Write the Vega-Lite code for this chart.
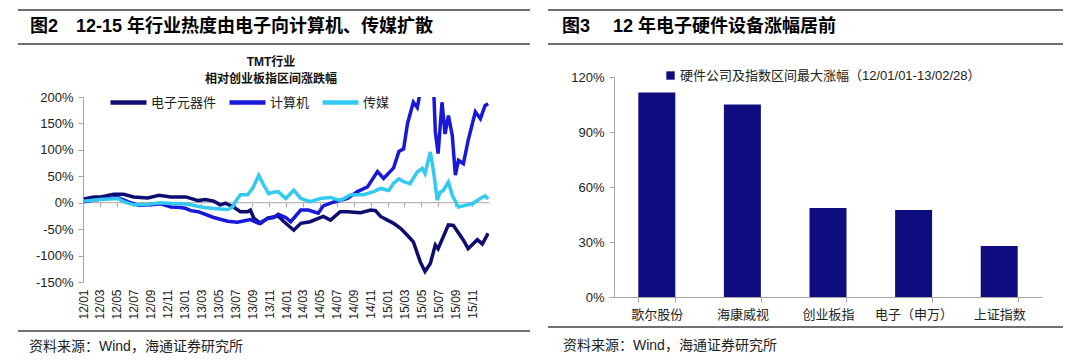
{
  "$schema": "https://vega.github.io/schema/vega-lite/v6.json",
  "padding": {"left": 17, "top": 9, "right": 0, "bottom": 0},
  "config": {
    "view": {"stroke": null},
    "axis": {"labelFont": "Liberation Sans", "labelColor": "#222", "grid": false, "title": null},
    "legend": {"labelFont": "Liberation Sans, Noto Sans CJK SC", "labelColor": "#222"}
  },
  "resolve": {"scale": {"color": "independent"}, "legend": {"color": "independent"}},
  "datasets": {
    "lines": [
      {"d": "2012-01-04", "s": "电子元器件", "v": 7},
      {"d": "2012-02-10", "s": "电子元器件", "v": 11},
      {"d": "2012-03-05", "s": "电子元器件", "v": 11},
      {"d": "2012-04-20", "s": "电子元器件", "v": 16},
      {"d": "2012-05-26", "s": "电子元器件", "v": 16},
      {"d": "2012-07-01", "s": "电子元器件", "v": 11},
      {"d": "2012-08-21", "s": "电子元器件", "v": 9},
      {"d": "2012-09-30", "s": "电子元器件", "v": 14},
      {"d": "2012-11-12", "s": "电子元器件", "v": 11},
      {"d": "2013-01-05", "s": "电子元器件", "v": 11},
      {"d": "2013-02-18", "s": "电子元器件", "v": 4},
      {"d": "2013-03-16", "s": "电子元器件", "v": 6},
      {"d": "2013-04-15", "s": "电子元器件", "v": 3},
      {"d": "2013-05-09", "s": "电子元器件", "v": -4},
      {"d": "2013-05-27", "s": "电子元器件", "v": -1},
      {"d": "2013-06-25", "s": "电子元器件", "v": -8},
      {"d": "2013-07-20", "s": "电子元器件", "v": -17},
      {"d": "2013-08-15", "s": "电子元器件", "v": -17},
      {"d": "2013-08-25", "s": "电子元器件", "v": -14},
      {"d": "2013-09-06", "s": "电子元器件", "v": -29},
      {"d": "2013-10-01", "s": "电子元器件", "v": -39},
      {"d": "2013-10-26", "s": "电子元器件", "v": -29},
      {"d": "2013-12-03", "s": "电子元器件", "v": -25},
      {"d": "2013-12-22", "s": "电子元器件", "v": -35},
      {"d": "2014-01-28", "s": "电子元器件", "v": -52},
      {"d": "2014-02-22", "s": "电子元器件", "v": -39},
      {"d": "2014-03-28", "s": "电子元器件", "v": -36},
      {"d": "2014-05-14", "s": "电子元器件", "v": -26},
      {"d": "2014-06-09", "s": "电子元器件", "v": -33},
      {"d": "2014-07-14", "s": "电子元器件", "v": -17},
      {"d": "2014-08-09", "s": "电子元器件", "v": -17},
      {"d": "2014-09-25", "s": "电子元器件", "v": -19},
      {"d": "2014-11-01", "s": "电子元器件", "v": -14},
      {"d": "2014-11-18", "s": "电子元器件", "v": -15},
      {"d": "2014-12-06", "s": "电子元器件", "v": -26},
      {"d": "2015-01-22", "s": "电子元器件", "v": -39},
      {"d": "2015-02-17", "s": "电子元器件", "v": -49},
      {"d": "2015-03-13", "s": "电子元器件", "v": -62},
      {"d": "2015-04-03", "s": "电子元器件", "v": -74},
      {"d": "2015-04-28", "s": "电子元器件", "v": -112},
      {"d": "2015-05-15", "s": "电子元器件", "v": -130},
      {"d": "2015-06-03", "s": "电子元器件", "v": -115},
      {"d": "2015-06-21", "s": "电子元器件", "v": -80},
      {"d": "2015-07-01", "s": "电子元器件", "v": -87},
      {"d": "2015-08-07", "s": "电子元器件", "v": -42},
      {"d": "2015-08-25", "s": "电子元器件", "v": -43},
      {"d": "2015-09-30", "s": "电子元器件", "v": -71},
      {"d": "2015-10-17", "s": "电子元器件", "v": -87},
      {"d": "2015-11-19", "s": "电子元器件", "v": -70},
      {"d": "2015-12-07", "s": "电子元器件", "v": -78},
      {"d": "2015-12-28", "s": "电子元器件", "v": -58},
      {"d": "2012-01-04", "s": "计算机", "v": 2},
      {"d": "2012-03-05", "s": "计算机", "v": 7},
      {"d": "2012-05-05", "s": "计算机", "v": 10},
      {"d": "2012-06-10", "s": "计算机", "v": 2},
      {"d": "2012-07-19", "s": "计算机", "v": -5},
      {"d": "2012-09-01", "s": "计算机", "v": -4},
      {"d": "2012-10-07", "s": "计算机", "v": -2},
      {"d": "2012-11-12", "s": "计算机", "v": -8},
      {"d": "2012-12-18", "s": "计算机", "v": -9},
      {"d": "2013-01-05", "s": "计算机", "v": -11},
      {"d": "2013-01-23", "s": "计算机", "v": -15},
      {"d": "2013-02-18", "s": "计算机", "v": -17},
      {"d": "2013-04-15", "s": "计算机", "v": -28},
      {"d": "2013-06-04", "s": "计算机", "v": -35},
      {"d": "2013-07-09", "s": "计算机", "v": -37},
      {"d": "2013-08-25", "s": "计算机", "v": -32},
      {"d": "2013-09-24", "s": "计算机", "v": -39},
      {"d": "2013-10-26", "s": "计算机", "v": -30},
      {"d": "2013-11-17", "s": "计算机", "v": -28},
      {"d": "2013-12-03", "s": "计算机", "v": -22},
      {"d": "2013-12-30", "s": "计算机", "v": -28},
      {"d": "2014-01-17", "s": "计算机", "v": -36},
      {"d": "2014-02-22", "s": "计算机", "v": -14},
      {"d": "2014-03-21", "s": "计算机", "v": -14},
      {"d": "2014-04-26", "s": "计算机", "v": -20},
      {"d": "2014-05-14", "s": "计算机", "v": -6},
      {"d": "2014-06-19", "s": "计算机", "v": 1},
      {"d": "2014-08-09", "s": "计算机", "v": 8},
      {"d": "2014-09-14", "s": "计算机", "v": 21},
      {"d": "2014-10-20", "s": "计算机", "v": 30},
      {"d": "2014-11-25", "s": "计算机", "v": 59},
      {"d": "2014-12-17", "s": "计算机", "v": 46},
      {"d": "2015-01-22", "s": "计算机", "v": 66},
      {"d": "2015-02-10", "s": "计算机", "v": 97},
      {"d": "2015-02-27", "s": "计算机", "v": 102},
      {"d": "2015-03-13", "s": "计算机", "v": 150},
      {"d": "2015-04-03", "s": "计算机", "v": 190},
      {"d": "2015-04-17", "s": "计算机", "v": 180},
      {"d": "2015-05-05", "s": "计算机", "v": 230},
      {"d": "2015-05-22", "s": "计算机", "v": 290},
      {"d": "2015-06-14", "s": "计算机", "v": 230},
      {"d": "2015-06-21", "s": "计算机", "v": 134},
      {"d": "2015-07-01", "s": "计算机", "v": 93},
      {"d": "2015-07-15", "s": "计算机", "v": 190},
      {"d": "2015-07-26", "s": "计算机", "v": 130},
      {"d": "2015-08-07", "s": "计算机", "v": 165},
      {"d": "2015-08-21", "s": "计算机", "v": 127},
      {"d": "2015-09-01", "s": "计算机", "v": 52},
      {"d": "2015-09-12", "s": "计算机", "v": 80},
      {"d": "2015-09-30", "s": "计算机", "v": 74},
      {"d": "2015-10-17", "s": "计算机", "v": 118},
      {"d": "2015-11-12", "s": "计算机", "v": 172},
      {"d": "2015-11-30", "s": "计算机", "v": 159},
      {"d": "2015-12-17", "s": "计算机", "v": 184},
      {"d": "2015-12-28", "s": "计算机", "v": 187},
      {"d": "2012-01-04", "s": "传媒", "v": 3},
      {"d": "2012-03-05", "s": "传媒", "v": 6},
      {"d": "2012-05-05", "s": "传媒", "v": 8},
      {"d": "2012-05-26", "s": "传媒", "v": 2},
      {"d": "2012-07-01", "s": "传媒", "v": -4},
      {"d": "2012-08-21", "s": "传媒", "v": -3},
      {"d": "2012-10-07", "s": "传媒", "v": 0},
      {"d": "2012-11-23", "s": "传媒", "v": -2},
      {"d": "2013-01-05", "s": "传媒", "v": -2},
      {"d": "2013-02-28", "s": "传媒", "v": -8},
      {"d": "2013-04-15", "s": "传媒", "v": -11},
      {"d": "2013-06-04", "s": "传媒", "v": -13},
      {"d": "2013-06-22", "s": "传媒", "v": -8},
      {"d": "2013-07-06", "s": "传媒", "v": 5},
      {"d": "2013-07-20", "s": "传媒", "v": 15},
      {"d": "2013-08-15", "s": "传媒", "v": 15},
      {"d": "2013-09-02", "s": "传媒", "v": 27},
      {"d": "2013-09-24", "s": "传媒", "v": 52},
      {"d": "2013-10-12", "s": "传媒", "v": 33},
      {"d": "2013-10-30", "s": "传媒", "v": 17},
      {"d": "2013-11-17", "s": "传媒", "v": 20},
      {"d": "2013-12-03", "s": "传媒", "v": 21},
      {"d": "2013-12-30", "s": "传媒", "v": 8},
      {"d": "2014-01-28", "s": "传媒", "v": 24},
      {"d": "2014-02-22", "s": "传媒", "v": 8},
      {"d": "2014-03-28", "s": "传媒", "v": 2},
      {"d": "2014-05-03", "s": "传媒", "v": 8},
      {"d": "2014-06-09", "s": "传媒", "v": 10},
      {"d": "2014-07-14", "s": "传媒", "v": 4},
      {"d": "2014-08-20", "s": "传媒", "v": 15},
      {"d": "2014-10-06", "s": "传媒", "v": 15},
      {"d": "2014-11-11", "s": "传媒", "v": 21},
      {"d": "2014-12-06", "s": "传媒", "v": 27},
      {"d": "2015-01-05", "s": "传媒", "v": 23},
      {"d": "2015-01-22", "s": "传媒", "v": 37},
      {"d": "2015-02-10", "s": "传媒", "v": 45},
      {"d": "2015-02-27", "s": "传媒", "v": 40},
      {"d": "2015-03-22", "s": "传媒", "v": 36},
      {"d": "2015-04-17", "s": "传媒", "v": 58},
      {"d": "2015-05-05", "s": "传媒", "v": 65},
      {"d": "2015-05-15", "s": "传媒", "v": 55},
      {"d": "2015-06-03", "s": "传媒", "v": 96},
      {"d": "2015-06-14", "s": "传媒", "v": 61},
      {"d": "2015-06-28", "s": "传媒", "v": 5},
      {"d": "2015-07-08", "s": "传媒", "v": 20},
      {"d": "2015-07-19", "s": "传媒", "v": 23},
      {"d": "2015-08-07", "s": "传媒", "v": 39},
      {"d": "2015-08-21", "s": "传媒", "v": 14},
      {"d": "2015-09-12", "s": "传媒", "v": -8},
      {"d": "2015-10-07", "s": "传媒", "v": -5},
      {"d": "2015-11-01", "s": "传媒", "v": -2},
      {"d": "2015-11-30", "s": "传媒", "v": 8},
      {"d": "2015-12-17", "s": "传媒", "v": 13},
      {"d": "2015-12-28", "s": "传媒", "v": 7}
    ],
    "bars": [
      {"name": "歌尔股份", "v": 111.5},
      {"name": "海康威视", "v": 105},
      {"name": "创业板指", "v": 48.5},
      {"name": "电子（申万）", "v": 47.5},
      {"name": "上证指数", "v": 27.8}
    ]
  },
  "hconcat": [
    {
      "spacing": 0,
      "resolve": {"scale": {"color": "independent"}, "legend": {"color": "independent"}},
      "vconcat": [
        {
          "width": 406, "height": 46,
          "data": {"values": [{"t": "图2\u300012-15 年行业热度由电子向计算机、传媒扩散"}]},
          "layer": [
            {"mark": {"type": "rule", "color": "#404040", "strokeWidth": 1.5},
             "encoding": {
               "x": {"datum": 0, "type": "quantitative", "scale": {"domain": [0, 1], "range": [-65, 447]}, "axis": null},
               "x2": {"datum": 1},
               "y": {"datum": 0, "type": "quantitative", "scale": {"domain": [0, 1], "range": [0, 34]}, "axis": null}}},
            {"mark": {"type": "rule", "color": "#404040", "strokeWidth": 1.5},
             "encoding": {
               "x": {"datum": 0, "type": "quantitative"},
               "x2": {"datum": 1},
               "y": {"datum": 1, "type": "quantitative"}}},
            {"mark": {"type": "text", "align": "left", "baseline": "middle", "dx": 12, "fontSize": 18, "fontWeight": "bold", "font": "Liberation Sans, Noto Sans CJK SC", "color": "#000"},
             "encoding": {
               "x": {"datum": 0, "type": "quantitative"},
               "y": {"datum": 0.5, "type": "quantitative"},
               "text": {"field": "t"}}}
          ]
        },
        {
          "width": 406, "height": 185,
          "title": {"text": ["TMT行业", "相对创业板指区间涨跌幅"], "font": "Liberation Sans, Noto Sans CJK SC", "fontSize": 12, "fontWeight": "bold", "lineHeight": 17, "anchor": "middle", "dx": -15, "offset": -4, "color": "#111"},
          "layer": [
            {
              "data": {"values": [{}]},
              "mark": {"type": "rule", "color": "#a6a6a6", "strokeWidth": 1},
              "encoding": {
                "x": {"datum": {"year": 2012, "month": 1, "date": 1, "utc": true}, "type": "temporal",
                      "scale": {"type": "utc", "domain": [{"year": 2012, "month": 1, "date": 1, "utc": true}, {"year": 2015, "month": 12, "date": 31, "utc": true}]},
                      "axis": {"orient": "bottom", "offset": -79.29, "labels": false, "domain": false, "ticks": true, "tickSize": 4, "tickColor": "#a6a6a6", "tickCount": {"interval": "month", "step": 2}, "grid": false, "title": null}},
                "x2": {"datum": {"year": 2015, "month": 12, "date": 31, "utc": true}},
                "y": {"datum": 0, "type": "quantitative",
                      "scale": {"domain": [-150, 200], "nice": false},
                      "axis": {"values": [-150, -100, -50, 0, 50, 100, 150, 200], "labelExpr": "datum.value + '%'", "labelFontSize": 13, "labelOverlap": false, "labelFlush": false, "tickSize": 5, "labelPadding": 5, "domainColor": "#a6a6a6", "tickColor": "#a6a6a6", "title": null}}
              }
            },
            {
              "data": {"name": "lines"},
              "mark": {"type": "line", "strokeWidth": 3.5, "clip": true},
              "encoding": {
                "x": {"field": "d", "type": "temporal",
                      "scale": {"type": "utc", "domain": [{"year": 2012, "month": 1, "date": 1, "utc": true}, {"year": 2015, "month": 12, "date": 31, "utc": true}]},
                      "axis": {"orient": "bottom", "format": "%y/%m", "tickCount": {"interval": "month", "step": 2}, "labelAngle": 270, "labelAlign": "right", "labelBaseline": "middle", "labelPadding": 7, "domain": false, "ticks": false, "grid": false, "title": null, "labelFontSize": 12, "labelOverlap": false, "labelFlush": false}},
                "y": {"field": "v", "type": "quantitative",
                      "scale": {"domain": [-150, 200], "nice": false},
                      "axis": {"values": [-150, -100, -50, 0, 50, 100, 150, 200], "labelExpr": "datum.value + '%'", "labelFontSize": 13, "labelOverlap": false, "labelFlush": false, "tickSize": 5, "labelPadding": 5, "domainColor": "#a6a6a6", "tickColor": "#a6a6a6", "title": null}},
                "color": {"field": "s", "type": "nominal",
                          "scale": {"domain": ["电子元器件", "计算机", "传媒"], "range": ["#0d0d70", "#1818d8", "#33c9f0"]},
                          "legend": {"title": null, "orient": "none", "legendX": 25, "legendY": -15, "direction": "horizontal", "gridAlign": "none", "symbolType": "stroke", "symbolSize": 1296, "symbolStrokeWidth": 4.5, "labelFontSize": 13, "labelFont": "Noto Sans CJK SC", "labelOffset": 2, "columnPadding": 3}}
              }
            }
          ],
          "resolve": {"axis": {"x": "independent"}}
        },
        {
          "width": 406, "height": 36,
          "data": {"values": [{"t": "资料来源：Wind，海通证券研究所"}]},
          "layer": [
            {"mark": {"type": "rule", "color": "#404040", "strokeWidth": 1.5},
             "encoding": {
               "x": {"datum": 0, "type": "quantitative", "scale": {"domain": [0, 1], "range": [-65, 447]}, "axis": null},
               "x2": {"datum": 1},
               "y": {"datum": 0, "type": "quantitative", "scale": {"domain": [0, 1], "range": [11, 27]}, "axis": null}}},
            {"mark": {"type": "text", "align": "left", "baseline": "middle", "dx": 11, "fontSize": 14, "font": "Liberation Sans, Noto Sans CJK SC", "color": "#222"},
             "encoding": {
               "x": {"datum": 0, "type": "quantitative"},
               "y": {"datum": 1, "type": "quantitative"},
               "text": {"field": "t"}}}
          ]
        }
      ]
    },
    {
      "spacing": 0,
      "resolve": {"scale": {"color": "independent"}, "legend": {"color": "independent"}},
      "vconcat": [
        {
          "width": 428, "height": 59,
          "data": {"values": [{"t": "图3\u3000\u00a012 年电子硬件设备涨幅居前"}]},
          "layer": [
            {"mark": {"type": "rule", "color": "#404040", "strokeWidth": 1.5},
             "encoding": {
               "x": {"datum": 0, "type": "quantitative", "scale": {"domain": [0, 1], "range": [-66, 449]}, "axis": null},
               "x2": {"datum": 1},
               "y": {"datum": 0, "type": "quantitative", "scale": {"domain": [0, 1], "range": [0, 34]}, "axis": null}}},
            {"mark": {"type": "rule", "color": "#404040", "strokeWidth": 1.5},
             "encoding": {
               "x": {"datum": 0, "type": "quantitative"},
               "x2": {"datum": 1},
               "y": {"datum": 1, "type": "quantitative"}}},
            {"mark": {"type": "text", "align": "left", "baseline": "middle", "dx": 14, "fontSize": 18, "fontWeight": "bold", "font": "Liberation Sans, Noto Sans CJK SC", "color": "#000"},
             "encoding": {
               "x": {"datum": 0, "type": "quantitative"},
               "y": {"datum": 0.5, "type": "quantitative"},
               "text": {"field": "t"}}}
          ]
        },
        {
          "width": 428, "height": 220,
          "data": {"name": "bars"},
          "mark": {"type": "bar"},
          "encoding": {
            "x": {"field": "name", "type": "nominal", "sort": null,
                  "scale": {"paddingInner": 0.568, "paddingOuter": 0.284},
                  "axis": {"title": null, "labelAngle": 0, "labelFont": "Noto Sans CJK SC", "labelFontSize": 13, "labelPadding": 6, "domainColor": "#a6a6a6", "tickColor": "#a6a6a6", "tickSize": 5, "tickBand": "extent", "grid": false}},
            "y": {"field": "v", "type": "quantitative",
                  "scale": {"domain": [0, 120], "nice": false},
                  "axis": {"values": [0, 30, 60, 90, 120], "labelExpr": "datum.value + '%'", "labelFontSize": 13, "labelOverlap": false, "labelFlush": false, "tickSize": 5, "labelPadding": 5, "domainColor": "#a6a6a6", "tickColor": "#a6a6a6", "title": null}},
            "color": {"datum": "硬件公司及指数区间最大涨幅（12/01/01-13/02/28）",
                      "scale": {"range": ["#0d0d80"]},
                      "legend": {"title": null, "orient": "none", "legendX": 50, "legendY": -8, "symbolType": "square", "symbolSize": 70, "labelFontSize": 13, "labelOffset": 3, "labelLimit": 500}}
          }
        },
        {
          "width": 428, "height": 36,
          "data": {"values": [{"t": "资料来源：Wind，海通证券研究所"}]},
          "layer": [
            {"mark": {"type": "rule", "color": "#404040", "strokeWidth": 1.5},
             "encoding": {
               "x": {"datum": 0, "type": "quantitative", "scale": {"domain": [0, 1], "range": [-66, 449]}, "axis": null},
               "x2": {"datum": 1},
               "y": {"datum": 0, "type": "quantitative", "scale": {"domain": [0, 1], "range": [6, 25]}, "axis": null}}},
            {"mark": {"type": "text", "align": "left", "baseline": "middle", "dx": 15, "fontSize": 14, "font": "Liberation Sans, Noto Sans CJK SC", "color": "#222"},
             "encoding": {
               "x": {"datum": 0, "type": "quantitative"},
               "y": {"datum": 1, "type": "quantitative"},
               "text": {"field": "t"}}}
          ]
        }
      ]
    }
  ],
  "spacing": 16
}
